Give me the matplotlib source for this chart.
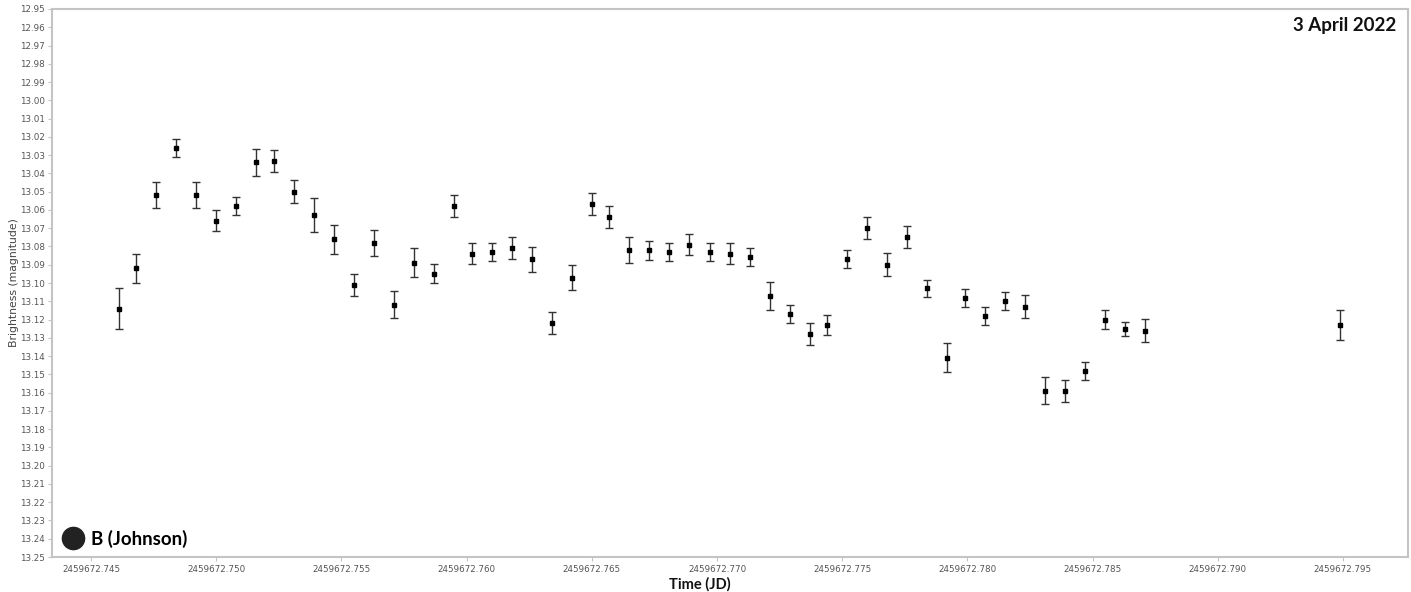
import numpy as np
import matplotlib.pyplot as plt
from matplotlib.ticker import MultipleLocator, FormatStrFormatter
from matplotlib.lines import Line2D

dia = 2459672
t_frac = [0.7461, 0.7468, 0.7476, 0.7484, 0.7492, 0.7500, 0.7508, 0.7516,
          0.7523, 0.7531, 0.7539, 0.7547, 0.7555, 0.7563, 0.7571, 0.7579,
          0.7587, 0.7595, 0.7602, 0.7610, 0.7618, 0.7626, 0.7634, 0.7642,
          0.7650, 0.7657, 0.7665, 0.7673, 0.7681, 0.7689, 0.7697, 0.7705,
          0.7713, 0.7721, 0.7729, 0.7737, 0.7744, 0.7752, 0.7760, 0.7768,
          0.7776, 0.7784, 0.7792, 0.7799, 0.7807, 0.7815, 0.7823, 0.7831,
          0.7839, 0.7847, 0.7855, 0.7863, 0.7871, 0.7949]
mag = [13.114, 13.092, 13.052, 13.026, 13.052, 13.066, 13.058, 13.034,
       13.033, 13.050, 13.063, 13.076, 13.101, 13.078, 13.112, 13.089,
       13.095, 13.058, 13.084, 13.083, 13.081, 13.087, 13.122, 13.097,
       13.057, 13.064, 13.082, 13.082, 13.083, 13.079, 13.083, 13.084,
       13.086, 13.107, 13.117, 13.128, 13.123, 13.087, 13.070, 13.090,
       13.075, 13.103, 13.141, 13.108, 13.118, 13.110, 13.113, 13.159,
       13.159, 13.148, 13.120, 13.125, 13.126, 13.123]
err = [0.0112, 0.0079, 0.0071, 0.0049, 0.0071, 0.0057, 0.0049, 0.0074,
       0.0060, 0.0063, 0.0093, 0.0079, 0.0060, 0.0071, 0.0074, 0.0079,
       0.0052, 0.0060, 0.0057, 0.0049, 0.0060, 0.0068, 0.0060, 0.0071,
       0.0060, 0.0060, 0.0071, 0.0052, 0.0047, 0.0057, 0.0047, 0.0057,
       0.0049, 0.0077, 0.0049, 0.0060, 0.0057, 0.0049, 0.0060, 0.0063,
       0.0060, 0.0049, 0.0079, 0.0049, 0.0049, 0.0049, 0.0063, 0.0074,
       0.0060, 0.0049, 0.0052, 0.0038, 0.0063, 0.0082]

t = dia + np.array(t_frac)

gris = '#c4c4c4'
texto = '#555555'

fig = plt.figure(figsize=(14.11, 5.92), dpi=100)
ax = fig.add_axes([0.0369, 0.0591, 0.9610, 0.9257])

ax.errorbar(t, mag, yerr=err, fmt='s', color='black', markersize=3.5,
            ecolor='#333333', elinewidth=1, capsize=2.8, capthick=1)

ax.set_xlim(dia + 0.74344, dia + 0.79760)
ax.set_ylim(13.25, 12.95)  # magnitudes invertidas

ax.xaxis.set_major_locator(MultipleLocator(0.005))
ax.xaxis.set_major_formatter(FormatStrFormatter('%.3f'))
ax.yaxis.set_major_locator(MultipleLocator(0.01))
ax.yaxis.set_major_formatter(FormatStrFormatter('%.2f'))

for s in ax.spines.values():
    s.set_color(gris)
    s.set_linewidth(1.5)

ax.tick_params(axis='both', labelsize=6.3, labelcolor=texto, colors=gris,
               length=3, width=0.8, pad=2)
ax.tick_params(axis='x', pad=3)
for lab in ax.get_xticklabels() + ax.get_yticklabels():
    lab.set_color(texto)

ax.set_ylabel('Brightness (magnitude)', fontsize=7.8, color='#444444', labelpad=1)
ax.set_xlabel('Time (JD)', fontsize=10.5, fontweight='bold', family='Lato',
              color='#111111')
ax.xaxis.set_label_coords(0.478, -0.036)

ax.text(0.9915, 0.985, '3 April 2022', transform=ax.transAxes, ha='right',
        va='top', fontsize=13.5, fontweight='bold', family='Lato', color='#111111')

leyenda = [Line2D([0], [0], marker='o', color='none', markerfacecolor='#222222',
                  markeredgecolor='#222222', markersize=16, label='B (Johnson)')]
leg = ax.legend(handles=leyenda, loc='lower left', frameon=False,
                prop={'family': 'Lato', 'weight': 'bold', 'size': 13.5},
                handletextpad=0.4, borderaxespad=0.1, handlelength=1.2)

fig.savefig('out.png', dpi=100)
